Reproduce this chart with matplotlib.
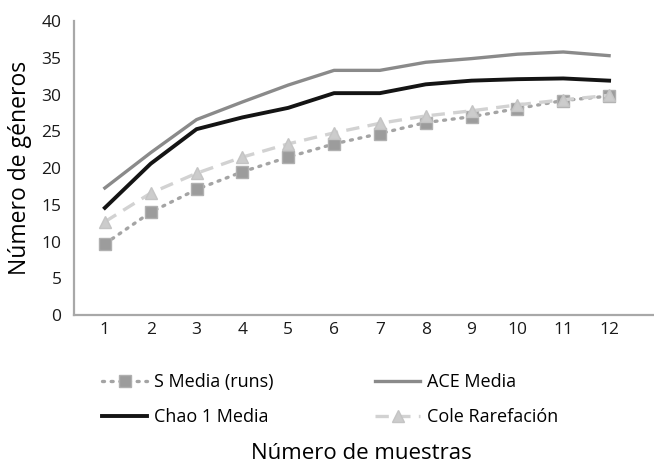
import matplotlib
matplotlib.use('Agg')
import matplotlib.pyplot as plt

plt.rcParams['font.family'] = ['Open Sans', 'DejaVu Sans']

# curvas de acumulación de géneros
muestras = list(range(1, 13))
s_media = [9.7, 14.0, 17.1, 19.5, 21.5, 23.3, 24.7, 26.2, 27.0, 28.1, 29.2, 29.8]
ace_media = [17.3, 22.1, 26.6, 29.0, 31.3, 33.3, 33.3, 34.4, 34.9, 35.5, 35.8, 35.3]
chao1_media = [14.6, 20.6, 25.3, 26.9, 28.2, 30.2, 30.2, 31.4, 31.9, 32.1, 32.2, 31.9]
cole_rarefaccion = [12.7, 16.6, 19.3, 21.5, 23.3, 24.8, 26.1, 27.1, 27.8, 28.6, 29.3, 29.9]
etiquetas = ['S Media (runs)', 'ACE Media', 'Chao 1 Media', 'Cole Rarefación']

fig = plt.figure(figsize=(6.54, 4.69), dpi=100)
ax = fig.add_axes([0.113, 0.328, 0.887, 0.627])

l_s, = ax.plot(muestras, s_media, color='#a4a4a4', lw=2.4, ls=(0, (0.6, 2.0)),
               dash_capstyle='round', marker='s', ms=8, mfc='#9c9c9c', mec='#b0b0b0',
               label=etiquetas[0])
l_ace, = ax.plot(muestras, ace_media, color='#8a8a8a', lw=2.4, label=etiquetas[1])
l_chao, = ax.plot(muestras, chao1_media, color='#141414', lw=2.8, label=etiquetas[2])
l_cole, = ax.plot(muestras, cole_rarefaccion, color='#d2d2d2', lw=2.4, ls=(0, (4, 2.5)),
                  marker='^', ms=9, mfc='#cccccc', mec='#c4c4c4', label=etiquetas[3])

ax.set_xlim(0.325, 12.98)
ax.set_ylim(0, 40)
ax.set_xticks(muestras)
ax.set_yticks(range(0, 41, 5))
ax.tick_params(length=0, labelsize=12.5, colors='#1a1a1a')
ax.tick_params(axis='y', pad=9)
ax.tick_params(axis='x', pad=5)
for side in ['top', 'right']:
    ax.spines[side].set_visible(False)
for side in ['left', 'bottom']:
    ax.spines[side].set_color('#a8a8a8')
    ax.spines[side].set_linewidth(1.6)

ax.set_ylabel('Número de géneros', fontsize=16.5, labelpad=7)
fig.text(0.552, 0.034, 'Número de muestras', fontsize=16, ha='center', va='center')

fig.legend(handles=[l_s, l_chao, l_ace, l_cole], ncol=2, loc='upper left',
           bbox_to_anchor=(0.156, 0.205), frameon=False, fontsize=13,
           handlelength=2.5, columnspacing=5.6, labelspacing=0.94, handletextpad=0.4,
           borderaxespad=0, borderpad=0)

fig.savefig('out.png', dpi=100)
